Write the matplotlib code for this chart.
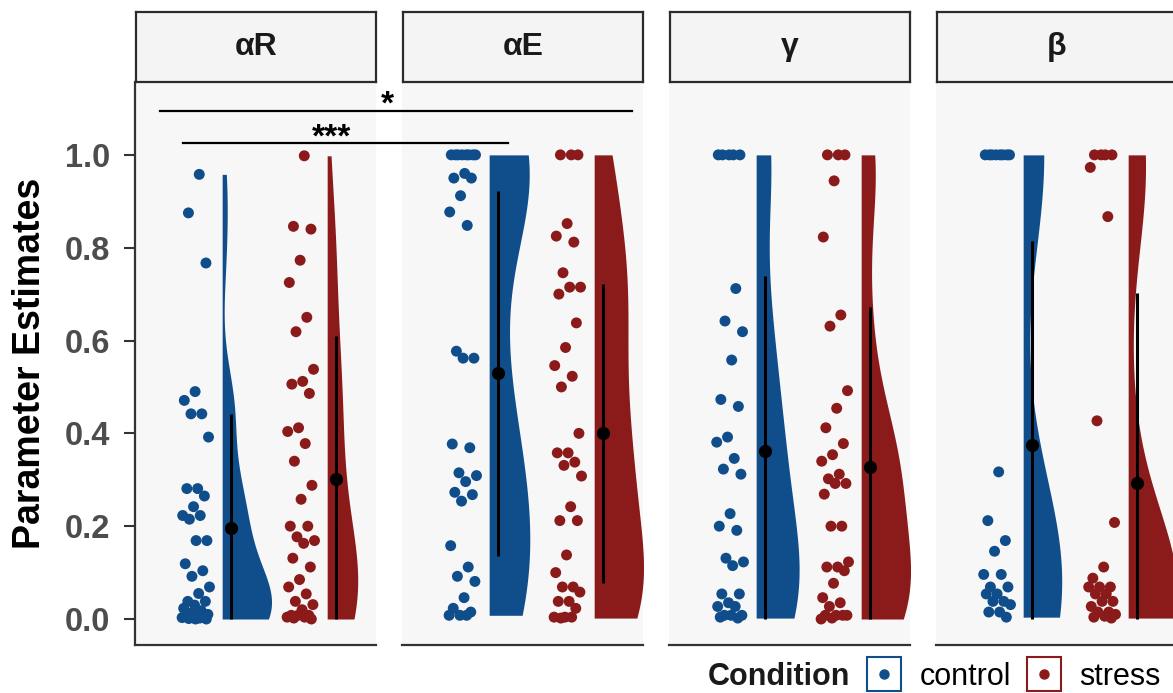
import numpy as np
import matplotlib
matplotlib.use("Agg")
import matplotlib.pyplot as plt
from matplotlib.lines import Line2D
from matplotlib.legend_handler import HandlerTuple

plt.rcParams["font.family"] = ["Liberation Sans", "DejaVu Sans"]

# ---------------- datos ----------------
parametros = ["αR", "αE", "γ", "β"]
condiciones = ["control", "stress"]
colores = ["#104E8B", "#8B1A1A"]

ctrl_aR = [0.958, 0.875, 0.767, 0.49, 0.471, 0.442, 0.442, 0.392, 0.281, 0.281,
           0.265, 0.242, 0.223, 0.223, 0.215, 0.169, 0.169, 0.119, 0.104, 0.092,
           0.069, 0.055, 0.038, 0.038, 0.03, 0.023, 0.018, 0.012, 0.01, 0.008,
           0.006, 0.004, 0.004, 0.003, 0.002, 0.001, 0.0, 0.0]
stress_aR = [0.998, 0.846, 0.840, 0.773, 0.725, 0.65, 0.619, 0.538, 0.512, 0.506,
             0.486, 0.412, 0.404, 0.378, 0.34, 0.288, 0.258, 0.2, 0.2, 0.177,
             0.169, 0.163, 0.131, 0.112, 0.085, 0.069, 0.054, 0.038, 0.031, 0.02,
             0.008, 0.008, 0.008, 0.004, 0.004, 0.002, 0.0]

ctrl_aE = [1.0, 1.0, 1.0, 1.0, 1.0, 1.0, 1.0, 1.0, 0.96, 0.95, 0.95, 0.912, 0.877,
           0.848, 0.577, 0.562, 0.562, 0.377, 0.369, 0.315, 0.309, 0.296, 0.273,
           0.268, 0.254, 0.158, 0.112, 0.092, 0.081, 0.046, 0.023, 0.015, 0.008,
           0.008, 0.008]
stress_aE = [1.0, 1.0, 1.0, 0.852, 0.825, 0.812, 0.746, 0.715, 0.715, 0.70, 0.638,
             0.585, 0.546, 0.523, 0.5, 0.4, 0.358, 0.358, 0.338, 0.331, 0.308,
             0.242, 0.212, 0.212, 0.138, 0.1, 0.069, 0.069, 0.058, 0.038, 0.038,
             0.023, 0.004, 0.004, 0.004, 0.002]

ctrl_g = [1.0, 1.0, 1.0, 1.0, 1.0, 0.712, 0.642, 0.619, 0.558, 0.473, 0.458, 0.392,
          0.381, 0.346, 0.323, 0.312, 0.227, 0.2, 0.191, 0.131, 0.123, 0.115,
          0.054, 0.054, 0.035, 0.027, 0.027, 0.008, 0.008, 0.008, 0.004, 0.002]
stress_g = [1.0, 1.0, 1.0, 0.944, 0.823, 0.655, 0.631, 0.492, 0.454, 0.412, 0.378,
            0.354, 0.34, 0.312, 0.302, 0.292, 0.292, 0.269, 0.2, 0.2, 0.123, 0.112,
            0.112, 0.104, 0.077, 0.046, 0.035, 0.027, 0.008, 0.008, 0.008, 0.008,
            0.002, 0.0]

ctrl_b = [1.0, 1.0, 1.0, 1.0, 1.0, 1.0, 1.0, 1.0, 0.317, 0.212, 0.169, 0.146,
          0.096, 0.096, 0.069, 0.069, 0.054, 0.054, 0.038, 0.038, 0.031, 0.015,
          0.015, 0.004]
stress_b = [1.0, 1.0, 1.0, 1.0, 0.973, 0.867, 0.427, 0.208, 0.112, 0.088, 0.069,
            0.069, 0.069, 0.054, 0.054, 0.038, 0.038, 0.027, 0.015, 0.015, 0.01,
            0.006, 0.004, 0.002]

valores = [(ctrl_aR, stress_aR), (ctrl_aE, stress_aE), (ctrl_g, stress_g), (ctrl_b, stress_b)]

# media y barra
media_ctrl = [0.196, 0.529, 0.362, 0.375]
media_stress = [0.302, 0.400, 0.327, 0.294]
inf_ctrl = [0.0, 0.135, 0.0, 0.0]
sup_ctrl = [0.442, 0.922, 0.738, 0.815]
inf_stress = [0.0, 0.077, 0.0, 0.0]
sup_stress = [0.609, 0.722, 0.672, 0.702]

# comparaciones (coordenadas del primer panel)
sig_etiquetas = ["*", "***"]
sig_y = [1.0955, 1.025]
sig_x0 = [0.648, 0.864]
sig_x1 = [5.14, 3.96]
sig_xtexto = [2.815, 2.277]
sig_ytexto = [1.088, 1.018]

yticks = [0.0, 0.2, 0.4, 0.6, 0.8, 1.0]


def densidad(vals, n=512):
    # densidad gaussiana recortada al rango de los datos (bw.nrd0)
    v = np.asarray(vals, dtype=float)
    sd = v.std(ddof=1)
    q75, q25 = np.percentile(v, [75, 25])
    lo = min(sd, (q75 - q25) / 1.34)
    if lo <= 0:
        lo = sd
    bw = 0.9 * lo * len(v) ** -0.2
    y = np.linspace(v.min(), v.max(), n)
    d = np.exp(-0.5 * ((y[:, None] - v[None, :]) / bw) ** 2).sum(1)
    d = d / (len(v) * bw * np.sqrt(2 * np.pi))
    return y, d


W, H = 1173, 693
fig = plt.figure(figsize=(W / 100, H / 100), dpi=100)


def caja(x0, y0, x1, y1):
    return [x0 / W, 1 - y1 / H, (x1 - x0) / W, (y1 - y0) / H]


ancho_max = 0.47
ejes = []
for i, nombre in enumerate(parametros):
    izq = 135 + 267 * i
    ax = fig.add_axes(caja(izq, 82, izq + 241, 645))
    ax.set_facecolor("#F7F7F7")
    ax.set_xlim(0.41, 2.705)
    ax.set_ylim(-0.056, 1.157)

    dens = [densidad(v) for v in valores[i]]
    escala = ancho_max / max(d.max() for _, d in dens)
    medias = [media_ctrl[i], media_stress[i]]
    infs = [inf_ctrl[i], inf_stress[i]]
    sups = [sup_ctrl[i], sup_stress[i]]

    for k in range(2):
        pos = k + 1
        col = colores[k]
        yy, dd = dens[k]
        # medio violin
        ax.fill_betweenx(yy, pos + 0.24, pos + 0.24 + dd * escala, color=col, lw=0, zorder=2)
        # puntos con desplazamiento fijo
        v = np.asarray(valores[i][k])
        offs = (((np.arange(len(v)) + 1) * 0.618034) % 1 - 0.5) * 0.27
        ax.scatter(pos - 0.01 + offs, v, s=62, color=col, edgecolors="none", zorder=3)
        # media +- sd
        ax.plot([pos + 0.32, pos + 0.32], [infs[k], sups[k]], color="black", lw=2.2,
                solid_capstyle="butt", zorder=4)
        ax.scatter([pos + 0.32], [medias[k]], s=72, color="black", zorder=5)

    for s in ["top", "right"]:
        ax.spines[s].set_visible(False)
    ax.spines["bottom"].set_linewidth(1.6)
    ax.spines["bottom"].set_color("#333333")
    ax.tick_params(axis="x", length=0, labelbottom=False)
    if i == 0:
        ax.spines["left"].set_linewidth(1.6)
        ax.spines["left"].set_color("#333333")
        ax.set_yticks(yticks)
        ax.set_yticklabels(["%.1f" % t for t in yticks])
        ax.tick_params(axis="y", length=8, width=1.5, color="#333333", labelsize=23.5,
                       labelcolor="#4D4D4D", pad=10)
        for lbl in ax.get_yticklabels():
            lbl.set_fontweight("bold")
    else:
        ax.spines["left"].set_visible(False)
        ax.set_yticks([])
    ax.set_xticks([])

    # tira de titulo
    tira = fig.add_axes(caja(izq + 1, 12, izq + 241, 82))
    tira.set_facecolor("#F4F4F4")
    tira.set_xticks([])
    tira.set_yticks([])
    for s in tira.spines.values():
        s.set_linewidth(1.6)
        s.set_color("#2B2B2B")
    tira.text(0.5, 0.5, nombre, ha="center", va="center", fontsize=23,
              fontweight="bold", color="#1A1A1A", transform=tira.transAxes)
    ejes.append(ax)

# lineas de significancia por encima de los paneles
ax1 = ejes[0]
for lab, y, x0, x1, xt, yt in zip(sig_etiquetas, sig_y, sig_x0, sig_x1, sig_xtexto, sig_ytexto):
    fig.add_artist(Line2D([x0, x1], [y, y], transform=ax1.transData, color="black", lw=1.6))
    fig.text(xt, yt, lab, transform=ax1.transData, ha="center", va="baseline",
             fontsize=24, fontweight="bold", color="black")

fig.text(30 / W, 1 - 363 / H, "Parameter Estimates", rotation=90, ha="center",
         va="center", fontsize=27, fontweight="bold", color="black")

# leyenda
manejadores = []
for col in colores:
    cuadro = Line2D([], [], marker="s", ms=25, mfc="white", mec=col, mew=1.5, ls="")
    punto = Line2D([], [], marker="o", ms=6.5, color=col, ls="")
    manejadores.append((cuadro, punto))
fig.legend(manejadores, condiciones, handler_map={tuple: HandlerTuple(ndivide=1)},
           ncol=2, loc="center left", bbox_to_anchor=(866 / W, 1 - 677 / H),
           frameon=False, fontsize=22, handlelength=1.2, handletextpad=0.55,
           columnspacing=0.5, borderpad=0, borderaxespad=0)
fig.text(708 / W, 1 - 677 / H, "Condition", ha="left", va="center", fontsize=22,
         fontweight="bold", color="#1A1A1A")

fig.savefig("out.png", dpi=100)
